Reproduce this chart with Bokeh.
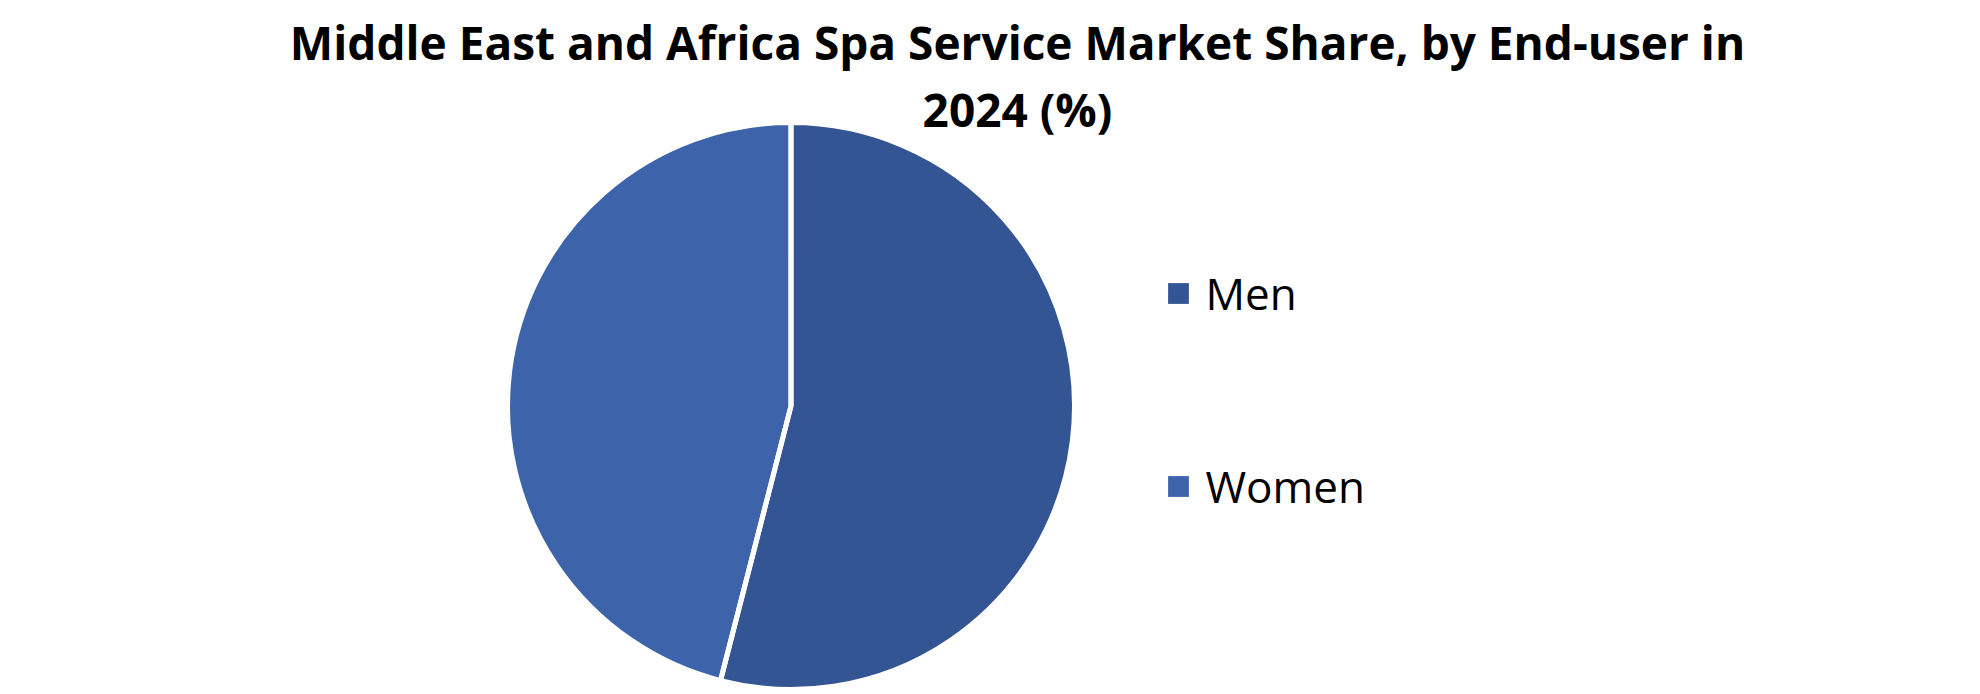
import math
from bokeh.plotting import figure
from bokeh.models import Range1d, Legend, LegendItem, Label, ColumnDataSource
from bokeh.embed import file_html
from bokeh.resources import INLINE

# ---- data ----
categories = ["Men", "Women"]
shares = [54.0, 46.0]
colors = ["#335593", "#3D64AB"]
title_lines = ["Middle East and Africa Spa Service Market Share, by End-user in", "2024 (%)"]

W, H = 1980, 694
p = figure(width=W, height=H, output_backend="svg", toolbar_location=None,
           x_range=Range1d(0, W), y_range=Range1d(0, H), min_border=0)
p.axis.visible = False
p.xgrid.visible = False
p.ygrid.visible = False
p.outline_line_color = None

# wedge angles (clockwise from 12 o'clock)
total = sum(shares)
starts, ends = [], []
a = math.pi / 2
for s in shares:
    starts.append(a)
    a = a - s / total * 2 * math.pi
    ends.append(a)

src = ColumnDataSource(dict(cat=categories, val=shares, color=colors, start=starts, end=ends))
cx, cy, rad = 790.5, 288.5, 283.5
r = p.wedge(x=cx, y=cy, radius=rad, start_angle="start", end_angle="end",
            direction="clock", fill_color="color", line_color=None, source=src)
# white separators between slices
p.wedge(x=cx, y=cy, radius=rad, start_angle="start", end_angle="end",
        direction="clock", fill_color=None, line_color="white", line_width=5, source=src)

items = [LegendItem(label=c, renderers=[r], index=i) for i, c in enumerate(categories)]
legend = Legend(items=items, location=(1165.4, 178.5), orientation="vertical",
                label_text_font="Open Sans", label_text_font_size="44px", label_text_color="#000000",
                glyph_width=26, glyph_height=26, label_standoff=14, spacing=133,
                padding=0, margin=0, border_line_alpha=0, background_fill_alpha=0)
p.add_layout(legend)

p.add_layout(Label(x=1017, y=H - 41, text=title_lines[0], text_align="center", text_baseline="middle",
                   text_font="Open Sans", text_font_style="bold", text_font_size="46px", text_color="#000000"))
p.add_layout(Label(x=1017, y=H - 108, text=title_lines[1], text_align="center", text_baseline="middle",
                   text_font="Open Sans", text_font_style="bold", text_font_size="46px", text_color="#000000"))

open("out.html", "w").write(file_html(p, INLINE))
